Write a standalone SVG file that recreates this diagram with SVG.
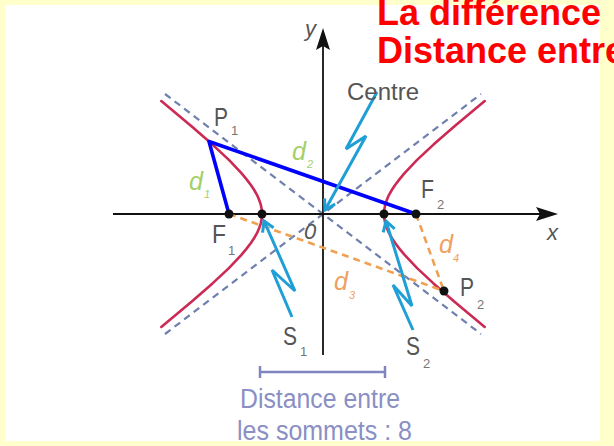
<svg xmlns="http://www.w3.org/2000/svg" width="614" height="446" viewBox="0 0 614 446">
<style>
.ax{stroke:#111;stroke-width:1.8;fill:none}
.asym{stroke:#6f7fae;stroke-width:2.2;stroke-dasharray:7 5;fill:none}
.hyp{stroke:#cc2a55;stroke-width:2.6;fill:none;stroke-linejoin:round;stroke-linecap:round}
.blue{stroke:#0000ff;stroke-width:3.6;fill:none;stroke-linejoin:round}
.ora{stroke:#f0a050;stroke-width:2.6;stroke-dasharray:7 5;fill:none}
.cy{stroke:#1f9fd6;stroke-width:3;fill:none;stroke-linejoin:miter}
.dot{fill:#111}
.lab{font-family:"Liberation Sans",Arial,sans-serif;fill:#555}
.big{font-size:26px}
.sub{font-size:13px;fill:#777}
.it{font-style:italic}
.grn{fill:#a4cf6a;font-family:"Liberation Sans",Arial,sans-serif;font-style:italic}
.org{fill:#f0a060;font-family:"Liberation Sans",Arial,sans-serif;font-style:italic}
.lav{font-family:"Liberation Sans",Arial,sans-serif;fill:#8a8fc4;font-size:27px}
.ttl{font-family:"Liberation Sans",Arial,sans-serif;font-weight:bold;fill:#ff0000;font-size:36px}
</style>
<defs>
<marker id="chev" markerWidth="16" markerHeight="16" viewBox="-12 -8 14 16" refX="0" refY="0" orient="auto" markerUnits="userSpaceOnUse">
<path d="M-10,-6 L0,0 L-10,6" fill="none" stroke="#1f9fd6" stroke-width="3"/>
</marker>
</defs>
<rect x="0" y="0" width="614" height="446" fill="#ffffcc"/>
<rect x="5" y="5" width="595" height="436" fill="#ffffff"/>

<g id="title">
<text class="ttl" x="377" y="25">La différence</text>
<text class="ttl" x="377" y="63">Distance entre</text>
</g>

<g id="asymptotes">
<path class="asym" d="M165,94 L481,334"/>
<path class="asym" d="M165,334 L481,94"/>
</g>

<g id="axes">
<path class="ax" d="M113,214 H540"/>
<path d="M558,214 L536,207 L540,214 L536,221 Z" fill="#111"/>
<path class="ax" d="M323,355 V45"/>
<path d="M323,28 L316,50 L323,46 L330,50 Z" fill="#111"/>
<text class="lab it" x="305" y="36" font-size="22">y</text>
<text class="lab it" x="547" y="240" font-size="22">x</text>
<text class="lab it" x="304" y="239" font-size="22">0</text>
</g>

<g id="hyperbola-right">
<path class="hyp" d="M484.7,101.1 L454.2,126.4 L433.5,144.6 L417.1,159.9 L404.6,173.1 L399.6,179.1 L395.3,184.7 L391.8,190 L388.9,195.1 L386.8,200 L385.2,204.7 L384.3,209.4 L384,214 L384.3,218.6 L385.2,223.3 L386.8,228 L388.9,232.9 L391.8,238 L395.3,243.3 L399.6,248.9 L404.6,254.9 L417.1,268.1 L433.5,283.4 L454.2,301.6 L484.7,326.9"/>
</g>
<g id="hyperbola-left">
<path class="hyp" d="M161.3,101.1 L191.8,126.4 L212.5,144.6 L228.9,159.9 L241.4,173.1 L246.4,179.1 L250.7,184.7 L254.2,190 L257.1,195.1 L259.2,200 L260.8,204.7 L261.7,209.4 L262,214 L261.7,218.6 L260.8,223.3 L259.2,228 L257.1,232.9 L254.2,238 L250.7,243.3 L246.4,248.9 L241.4,254.9 L228.9,268.1 L212.5,283.4 L191.8,301.6 L161.3,326.9"/>
</g>

<g id="connectors">
<path class="ora" d="M229,214 L444,291"/>
<path class="ora" d="M416,214 L444,291"/>
<path class="blue" d="M229,214 L209,141.5 L416,214"/>
<path class="cy" marker-end="url(#chev)" d="M377,92 L346,149 L366,136 L325,210"/>
<path class="cy" marker-end="url(#chev)" d="M292,317 L272,270 L295,291 L264,221"/>
<path class="cy" marker-end="url(#chev)" d="M413,330 L393,285 L412,306 L386,221"/>
</g>

<g id="F1"><circle class="dot" cx="229" cy="214" r="4.5"/>
<text class="lab big" x="212" y="243" textLength="14" lengthAdjust="spacingAndGlyphs">F</text><text class="lab sub" x="228" y="255">1</text></g>
<g id="S1"><circle class="dot" cx="262" cy="214" r="4.5"/>
<text class="lab big" x="283" y="345" textLength="14" lengthAdjust="spacingAndGlyphs">S</text><text class="lab sub" x="300" y="356">1</text></g>
<g id="S2"><circle class="dot" cx="384" cy="214" r="4.5"/>
<text class="lab big" x="406" y="355" textLength="14" lengthAdjust="spacingAndGlyphs">S</text><text class="lab sub" x="423" y="368">2</text></g>
<g id="F2"><circle class="dot" cx="416" cy="214" r="4.5"/>
<text class="lab big" x="421" y="198" textLength="13" lengthAdjust="spacingAndGlyphs">F</text><text class="lab sub" x="437" y="209">2</text></g>
<g id="P1">
<text class="lab big" x="214" y="126" textLength="14" lengthAdjust="spacingAndGlyphs">P</text><text class="lab sub" x="231" y="135">1</text></g>
<g id="P2"><circle class="dot" cx="444" cy="291" r="4.5"/>
<text class="lab big" x="460" y="296" textLength="14" lengthAdjust="spacingAndGlyphs">P</text><text class="lab sub" x="477" y="309">2</text></g>
<g id="centre-label"><text class="lab" x="347" y="100" font-size="24" textLength="72" lengthAdjust="spacingAndGlyphs">Centre</text></g>

<g id="d-labels">
<text class="grn" x="189" y="190" font-size="26" textLength="14" lengthAdjust="spacingAndGlyphs">d</text><text class="grn" x="204" y="198" font-size="11">1</text>
<text class="grn" x="292" y="160" font-size="26" textLength="14" lengthAdjust="spacingAndGlyphs">d</text><text class="grn" x="307" y="168" font-size="11">2</text>
<text class="org" x="334" y="290" font-size="26" textLength="14" lengthAdjust="spacingAndGlyphs">d</text><text class="org" x="349" y="299" font-size="11">3</text>
<text class="org" x="439" y="253" font-size="26" textLength="14" lengthAdjust="spacingAndGlyphs">d</text><text class="org" x="453" y="262" font-size="11">4</text>
</g>

<g id="vertex-distance">
<path d="M260,372 H385 M260,366 V378 M385,366 V378" stroke="#7f86bf" stroke-width="2.5" fill="none"/>
<text class="lav" x="240" y="408" textLength="160" lengthAdjust="spacingAndGlyphs">Distance entre</text>
<text class="lav" x="237" y="440" textLength="175" lengthAdjust="spacingAndGlyphs">les sommets : 8</text>
</g>
</svg>
